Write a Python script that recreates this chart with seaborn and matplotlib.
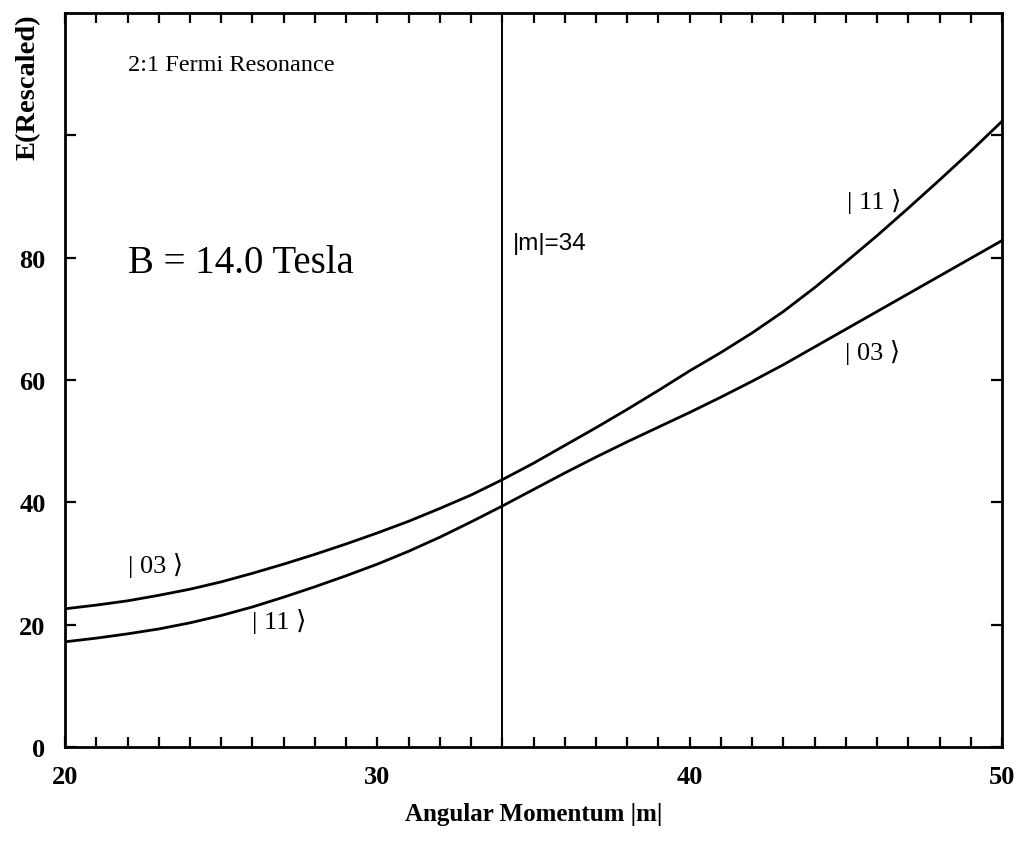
import numpy as np
import pandas as pd
import matplotlib
matplotlib.use("Agg")
import matplotlib.pyplot as plt
import seaborn as sns

# ---- data ----
m_values = list(range(20, 51))
upper_curve = [22.6, 23.2, 23.9, 24.8, 25.8, 27.0, 28.4, 29.9, 31.5, 33.2,
               35.0, 36.9, 39.0, 41.2, 43.7, 46.4, 49.3, 52.2, 55.2, 58.3,
               61.5, 64.5, 67.7, 71.2, 75.1, 79.3, 83.6, 88.1, 92.7, 97.4, 102.3]
lower_curve = [17.2, 17.8, 18.5, 19.3, 20.3, 21.5, 22.9, 24.5, 26.2, 28.0,
               29.9, 32.0, 34.3, 36.8, 39.4, 42.1, 44.8, 47.4, 49.9, 52.3,
               54.7, 57.2, 59.8, 62.5, 65.4, 68.3, 71.2, 74.1, 77.0, 79.9, 82.8]
curve_names = ["upper", "lower"]
resonance_m = 34
x_ticks = [20, 30, 40, 50]
x_tick_labels = ["20", "30", "40", "50"]
y_ticks = [0, 20, 40, 60, 80, 100]
y_tick_labels = ["0", "20", "40", "60", "80", ""]
state_labels = ["| 03 \u27e9", "| 11 \u27e9", "| 11 \u27e9", "| 03 \u27e9"]
state_label_x = [22.9, 26.85, 45.9, 45.85]
state_label_y = [29.8, 20.7, 89.3, 64.6]

df = pd.DataFrame({
    "m": m_values * 2,
    "E": upper_curve + lower_curve,
    "curve": [curve_names[0]] * len(m_values) + [curve_names[1]] * len(m_values),
})

sns.set_theme(style="ticks")
plt.rcParams["font.family"] = ["Liberation Serif", "DejaVu Serif", "DejaVu Sans"]
plt.rcParams["text.color"] = "black"
plt.rcParams["axes.labelcolor"] = "black"
plt.rcParams["xtick.color"] = "black"
plt.rcParams["ytick.color"] = "black"

fig = plt.figure(figsize=(10.21, 8.54), dpi=100)
ax = fig.add_axes([0.0637, 0.1241, 0.9177, 0.8595])

sns.lineplot(data=df, x="m", y="E", units="curve", estimator=None,
             color="black", linewidth=2.0, ax=ax, legend=False)
ax.axvline(resonance_m, color="black", linewidth=1.4)

ax.set_xlim(20, 50)
ax.set_ylim(0, 120)
ax.set_xticks(x_ticks)
ax.set_xticklabels(x_tick_labels, fontsize=19, fontweight="bold")
ax.set_xticks(np.arange(20, 51, 1), minor=True)
ax.set_yticks(y_ticks)
ax.set_yticklabels(y_tick_labels, fontsize=19, fontweight="bold")

ax.tick_params(axis="x", which="both", direction="in", top=True, bottom=True,
               length=7, width=1.6, pad=13)
ax.tick_params(axis="y", which="both", direction="in", left=True, right=True,
               length=8, width=1.6, pad=14)
for s in ax.spines.values():
    s.set_linewidth(2.0)
    s.set_color("black")

ax.set_xlabel("Angular Momentum |m|", fontsize=18, fontweight="bold", labelpad=10)
ax.set_ylabel("E(Rescaled)", fontsize=20.5, fontweight="bold", loc="top")
ax.yaxis.set_label_coords(-0.026, 1.0)

ax.text(22.0, 111.5, "2:1 Fermi Resonance", fontsize=17.5, ha="left", va="center")
ax.text(22.0, 79.2, "B = 14.0 Tesla", fontsize=28, ha="left", va="center")
ax.text(34.35, 82.4, "|m|=34", fontsize=17.5, ha="left", va="center",
        family=["Liberation Sans", "DejaVu Sans"])
for lab, lx, ly in zip(state_labels, state_label_x, state_label_y):
    ax.text(lx, ly, lab, fontsize=19, ha="center", va="center",
            family=["Liberation Serif", "DejaVu Serif", "DejaVu Sans"])

fig.savefig("out.png", dpi=100)
